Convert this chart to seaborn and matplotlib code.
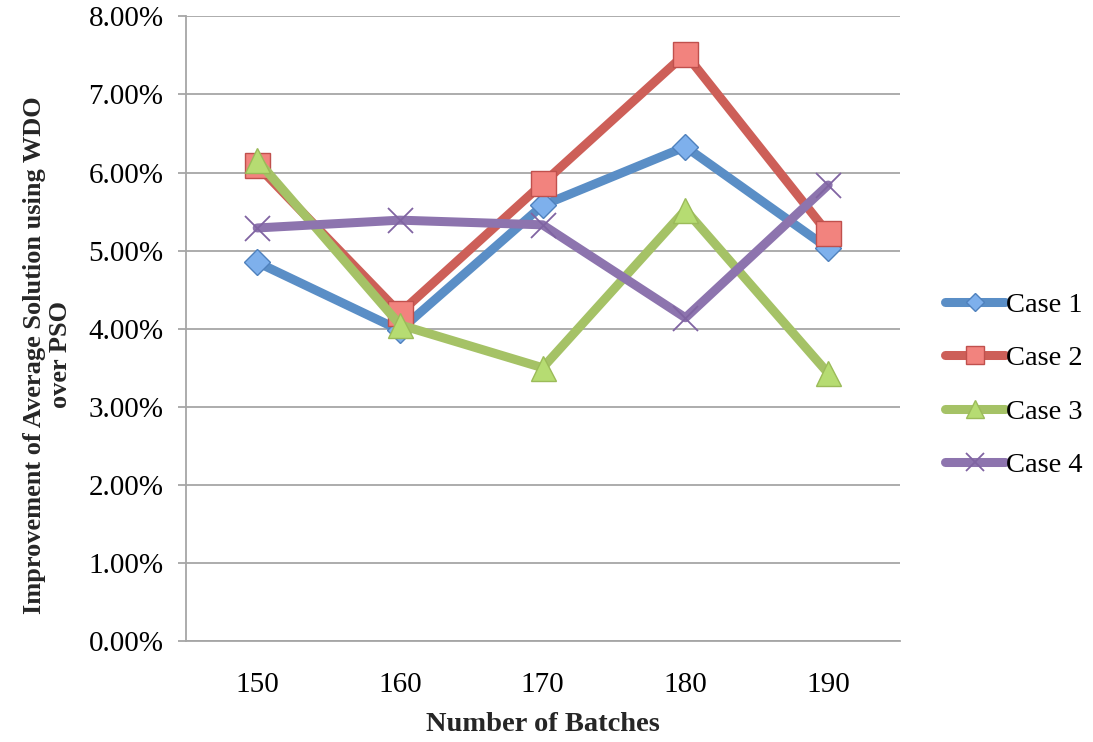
import matplotlib
matplotlib.use("Agg")
import matplotlib.pyplot as plt
import seaborn as sns
import pandas as pd
from matplotlib.ticker import FuncFormatter

batches = [150, 160, 170, 180, 190]
case1 = [4.85, 3.98, 5.58, 6.33, 5.03]
case2 = [6.09, 4.20, 5.86, 7.52, 5.22]
case3 = [6.16, 4.05, 3.50, 5.52, 3.43]
case4 = [5.29, 5.39, 5.33, 4.14, 5.84]
series_names = ["Case 1", "Case 2", "Case 3", "Case 4"]
y_ticks = [0, 1, 2, 3, 4, 5, 6, 7, 8]

sns.set_theme(style="white")
plt.rcParams['font.family'] = ['Liberation Serif', 'DejaVu Serif']

rows = []
for name, vals in zip(series_names, [case1, case2, case3, case4]):
    for b, v in zip(batches, vals):
        rows.append({"Batches": b, "Value": v, "Case": name})
df = pd.DataFrame(rows)

line_colors = {"Case 1": "#5A8EC6", "Case 2": "#CD5F58", "Case 3": "#A5C266", "Case 4": "#8D74AE"}
face_colors = {"Case 1": "#7EB0EC", "Case 2": "#F2837E", "Case 3": "#B6DC72", "Case 4": "#8D74AE"}
edge_colors = {"Case 1": "#4F81BD", "Case 2": "#C0504D", "Case 3": "#9BBB59", "Case 4": "#8064A2"}
markers = {"Case 1": "D", "Case 2": "s", "Case 3": "^", "Case 4": "x"}
msizes = {"Case 1": 13, "Case 2": 18, "Case 3": 18, "Case 4": 18}

fig = plt.figure(figsize=(10.93, 7.42), dpi=100)
ax = fig.add_axes([0.170, 0.136, 0.653, 0.842])

for name in series_names:
    sub = df[df["Case"] == name]
    sns.lineplot(data=sub, x="Batches", y="Value", ax=ax, color=line_colors[name],
                 linewidth=6.5, marker=markers[name], markersize=msizes[name],
                 markerfacecolor=face_colors[name], markeredgecolor=edge_colors[name],
                 markeredgewidth=1.0 if name != "Case 4" else 1.3,
                 label=name, solid_capstyle="round", solid_joinstyle="round")

ax.set_xlim(145, 195)
ax.set_ylim(0, 8)
ax.set_xticks(batches)
ax.set_xticklabels([str(b) for b in batches])
ax.set_yticks(y_ticks)
ax.yaxis.set_major_formatter(FuncFormatter(lambda v, p: f"{v:.2f}%"))
ax.grid(axis="y", color="#A6A6A6", linewidth=1.3)
ax.grid(axis="x", visible=False)
ax.set_axisbelow(True)
for s in ["top", "right"]:
    ax.spines[s].set_visible(False)
for s in ["left", "bottom"]:
    ax.spines[s].set_color("#A6A6A6")
    ax.spines[s].set_linewidth(1.3)
ax.tick_params(axis="y", which="major", length=6, width=1.3, color="#A6A6A6",
               left=True, labelsize=21, pad=10, labelcolor="black")
ax.tick_params(axis="x", length=0, labelsize=21, pad=22, labelcolor="black")

ax.set_xlabel("Number of Batches", fontsize=20.5, fontweight="bold")
ax.xaxis.set_label_coords(0.5, -0.114)
ax.set_ylabel("Improvement of Average Solution using WDO\nover PSO", fontsize=19,
              fontweight="bold", linespacing=1.15)
ax.yaxis.set_label_coords(-0.160, 0.458)

leg = ax.legend(loc="center left", bbox_to_anchor=(1.064, 0.410), frameon=False,
                fontsize=20.5, handlelength=2.1, handletextpad=0.05, labelspacing=0.97,
                markerscale=0.7, borderpad=0, borderaxespad=0)
for t in leg.get_texts():
    t.set_color("black")

fig.savefig("out.png", dpi=100)
